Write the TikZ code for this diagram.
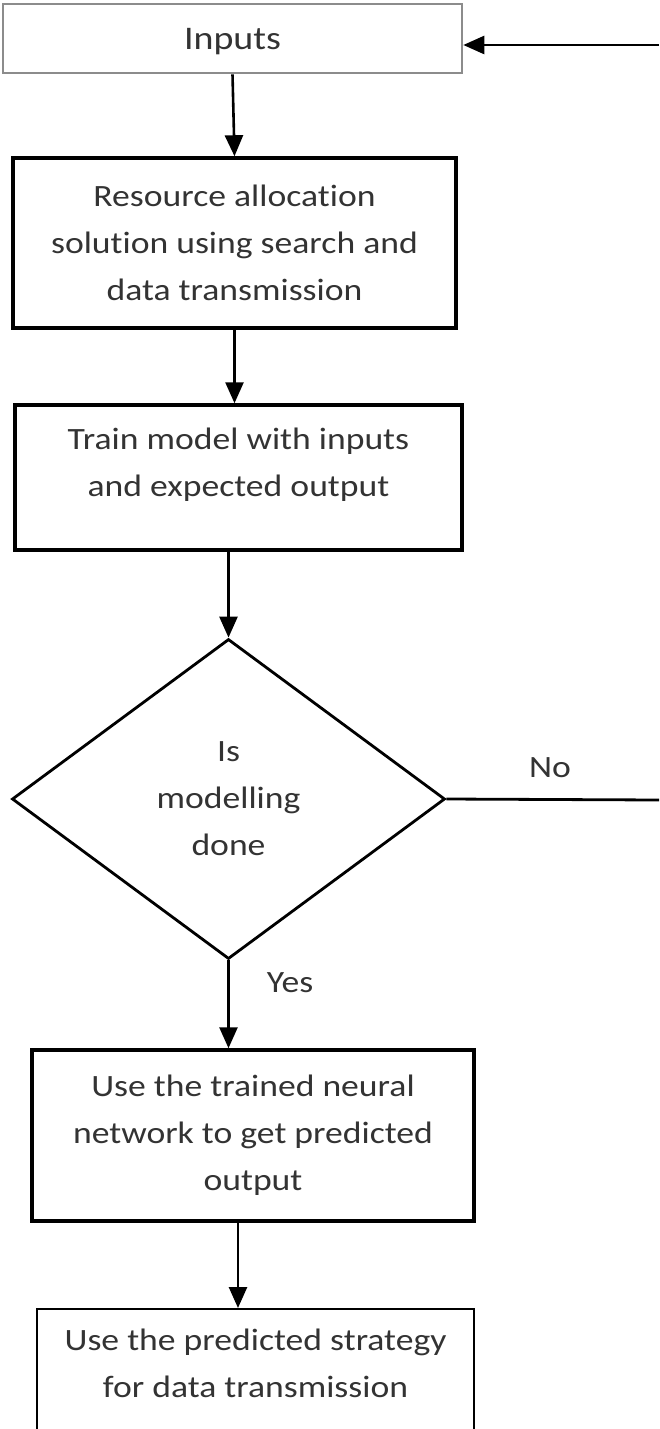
\documentclass[tikz,border=0pt]{standalone}
\usepackage{fontspec}
\setmainfont{Carlito}[FakeStretch=1.15,Ligatures=CommonOff]
\usetikzlibrary{shapes.geometric,arrows.meta}

\begin{document}
\begin{tikzpicture}[x=1pt,y=-1pt,
  font=\fontsize{31}{47}\selectfont,
  box/.style={draw,rectangle,line width=3.5pt,align=center,text=black!80},
  arr/.style={-{Triangle[length=21pt,width=18pt]},line width=2.6pt},
  lbl/.style={text=black!80}]
\clip(0,0)rectangle(659,1429);
% boxes
\node[box,draw=black!45,line width=2.6pt,minimum width=459pt,minimum height=69pt,text depth=0pt,font=\fontsize{33}{47}\selectfont](inputs)at(232.5,38.5){Inputs};
\node[box,minimum width=443pt,minimum height=170pt](alloc)at(234.5,243){Resource allocation\\solution using search and\\data transmission};
\node[box,minimum width=447pt,minimum height=145pt,text depth=30pt](train)at(238.5,477.5){Train model with inputs\\and expected output};
\node[diamond,draw,line width=2.8pt,minimum width=433pt,minimum height=320pt,inner sep=0pt,align=center,text=black!80](decision)at(228.5,799){Is\\modelling\\done};
\node[box,minimum width=442pt,minimum height=171pt](predict)at(253,1135.5){Use the trained neural\\network to get predicted\\output};
\node[box,line width=2pt,minimum width=437pt,minimum height=170pt,anchor=north](use)at(255.5,1308){Use the predicted strategy\\for data transmission\\\strut};
% loose ends on the right
\coordinate(back)at(659,45);
\coordinate(noend)at(659,800);
% arrows
\draw[arr](inputs.south)--(alloc.north);
\draw[arr](alloc.south)--(alloc.south|-train.north);
\draw[arr](decision.north|-train.south)--(decision.north);
\draw[arr](decision.south)--(decision.south|-predict.north);
\draw[arr]([xshift=-15pt]predict.south)--([xshift=-15pt]predict.south|-use.north);
\draw[arr](back)--(back-|inputs.east);
\draw[line width=2.8pt](decision.east)--(noend);
% branch labels
\node[lbl](no)at(550,768){No};
\node[lbl](yes)at(290,983){Yes};
\end{tikzpicture}
\end{document}
